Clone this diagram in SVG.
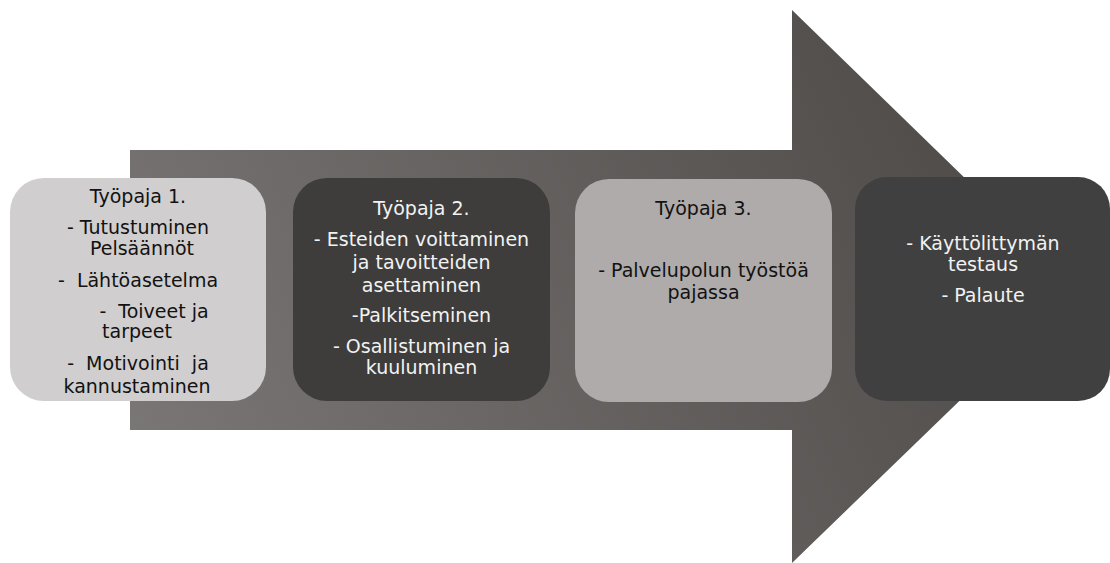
<svg xmlns="http://www.w3.org/2000/svg" width="1110" height="563" viewBox="0 0 1110 563">
  <defs>
    <linearGradient id="arrowFill" gradientUnits="userSpaceOnUse" x1="130" y1="480" x2="1000" y2="60">
      <stop offset="0" stop-color="#7b7776"/>
      <stop offset="1" stop-color="#4c4947"/>
    </linearGradient>
  </defs>
  <style>
    .box { stroke: none; }
    .t { font-family: "DejaVu Sans", "Liberation Sans", sans-serif; font-size: 19px; text-anchor: middle; white-space: pre; }
    .dark { fill: #121212; }
    .light { fill: #f2f2f2; }
  </style>

  <!-- big process arrow in the background -->
  <g id="arrow">
    <path d="M130 150 H792 V10 L1077 287 L792 563 V430 H130 Z" fill="url(#arrowFill)"/>
  </g>

  <!-- workshop 1 -->
  <g id="node-tyopaja1">
    <rect class="box" x="10" y="178" width="256" height="223" rx="34" fill="#d0cece"/>
    <text class="t dark" x="138" y="203">Työpaja 1.</text>
    <text class="t dark" x="138" y="234">- Tutustuminen</text>
    <text class="t dark" x="142" y="255">Pelsäännöt</text>
    <text class="t dark" x="138" y="287">-  Lähtöasetelma</text>
    <text class="t dark" x="154" y="318">-  Toiveet ja</text>
    <text class="t dark" x="137" y="338">tarpeet</text>
    <text class="t dark" x="138" y="370">-  Motivointi  ja</text>
    <text class="t dark" x="137" y="393">kannustaminen</text>
  </g>

  <!-- workshop 2 -->
  <g id="node-tyopaja2">
    <rect class="box" x="293" y="178" width="257" height="223" rx="34" fill="#3e3d3c"/>
    <text class="t light" x="421.5" y="215">Työpaja 2.</text>
    <text class="t light" x="421.5" y="246">- Esteiden voittaminen</text>
    <text class="t light" x="421.5" y="269">ja tavoitteiden</text>
    <text class="t light" x="421.5" y="292">asettaminen</text>
    <text class="t light" x="421.5" y="322">-Palkitseminen</text>
    <text class="t light" x="421.5" y="353">- Osallistuminen ja</text>
    <text class="t light" x="421.5" y="374">kuuluminen</text>
  </g>

  <!-- workshop 3 -->
  <g id="node-tyopaja3">
    <rect class="box" x="575" y="179" width="257" height="223" rx="34" fill="#aeabaa"/>
    <text class="t dark" x="703.5" y="215">Työpaja 3.</text>
    <text class="t dark" x="703.5" y="277">- Palvelupolun työstöä</text>
    <text class="t dark" x="703.5" y="299">pajassa</text>
  </g>

  <!-- final step -->
  <g id="node-testaus">
    <rect class="box" x="855" y="177" width="255" height="224" rx="32" fill="#404040"/>
    <text class="t light" x="983" y="250">- Käyttölittymän</text>
    <text class="t light" x="983" y="271">testaus</text>
    <text class="t light" x="983" y="302">- Palaute</text>
  </g>

  <!-- no separate connectors: the arrow above carries the flow -->
  <g id="connectors"/>
</svg>
